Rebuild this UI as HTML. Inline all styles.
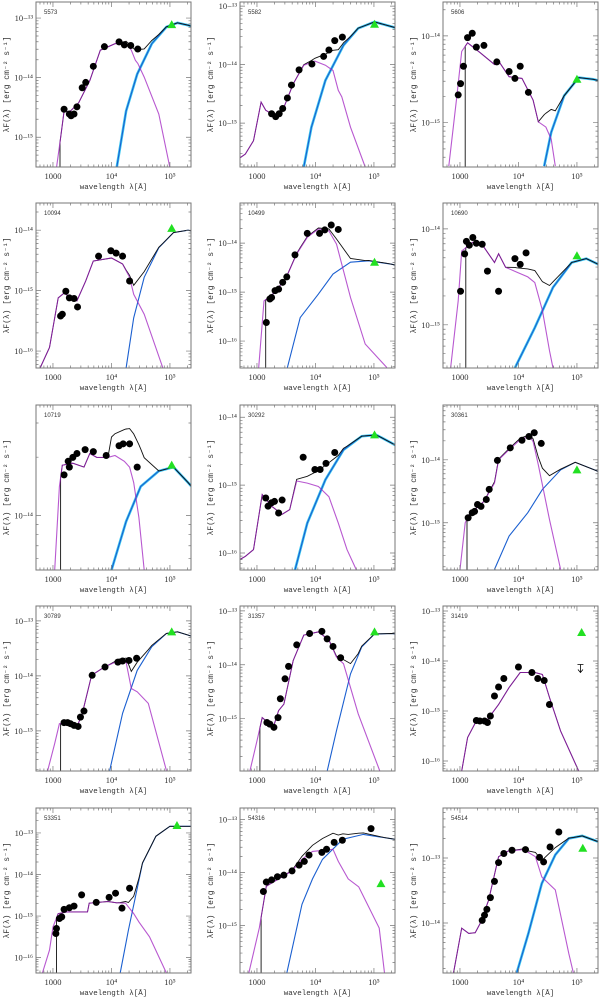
<!DOCTYPE html>
<html><head><meta charset="utf-8"><style>
html,body{margin:0;padding:0;background:#fff;}
svg{display:block;font-family:"Liberation Serif",serif;}
</style></head><body>
<svg id="fig" width="600" height="998" viewBox="0 0 600 998" xmlns="http://www.w3.org/2000/svg"></svg>
<script>
// ---- data (log10 wavelength [A], log10 lambda F [erg cm^-2 s^-1]) ----
const panelNames = ["5573","5582","5606","10094","10499","10690","10719","30292","30361","30789","31357","31419","53351","54316","54514"];
const yRanges = [[-15.5,-12.73],[-15.75,-12.93],[-15.51,-13.61],[-16.28,-13.55],[-16.55,-13.18],[-15.45,-13.73],[-14.28,-13.43],[-16.25,-13.82],[-15.75,-13.13],[-15.73,-12.73],[-15.97,-12.91],[-16.2,-12.9],[-16.37,-12.4],[-15.9,-12.78],[-14.77,-12.23]];
const cutoffs = [3.12,null,3.09,null,3.15,3.1,3.13,null,3.12,3.13,3.05,null,3.06,3.07,null];
const obsPoints = [
 [[3.19,-14.53],[3.28,-14.61],[3.31,-14.64],[3.36,-14.61],[3.41,-14.49],[3.50,-14.17],[3.56,-14.08],[3.69,-13.81],[3.88,-13.48],[4.13,-13.40],[4.22,-13.45],[4.33,-13.46],[4.45,-13.52]],
 [[3.25,-14.84],[3.32,-14.89],[3.38,-14.84],[3.44,-14.75],[3.52,-14.57],[3.59,-14.35],[3.72,-14.09],[3.94,-13.99],[4.14,-13.86],[4.23,-13.75],[4.33,-13.59],[4.46,-13.53]],
 [[2.97,-14.68],[3.01,-14.55],[3.06,-14.35],[3.13,-14.02],[3.21,-13.97],[3.28,-14.13],[3.41,-14.11],[3.63,-14.30],[3.84,-14.41],[3.94,-14.49],[4.03,-14.35],[4.17,-14.65]],
 [[3.13,-15.42],[3.16,-15.39],[3.22,-15.01],[3.28,-15.12],[3.36,-15.13],[3.42,-15.27],[3.78,-14.43],[3.99,-14.34],[4.08,-14.38],[4.19,-14.43],[4.31,-14.84]],
 [[3.16,-15.62],[3.22,-15.14],[3.25,-15.11],[3.31,-14.97],[3.37,-14.94],[3.44,-14.80],[3.51,-14.69],[3.65,-14.24],[3.86,-13.80],[4.07,-13.80],[4.16,-13.73],[4.27,-13.63],[4.39,-13.72]],
 [[3.01,-14.65],[3.08,-14.26],[3.11,-14.13],[3.16,-14.17],[3.22,-14.09],[3.28,-14.15],[3.38,-14.16],[3.47,-14.44],[3.66,-14.65],[3.94,-14.31],[4.03,-14.37],[4.13,-14.25]],
 [[3.19,-13.79],[3.26,-13.72],[3.28,-13.75],[3.34,-13.70],[3.41,-13.68],[3.55,-13.66],[3.69,-13.67],[3.91,-13.69],[4.13,-13.64],[4.20,-13.63],[4.31,-13.63],[4.44,-13.75]],
 [[3.15,-15.19],[3.19,-15.31],[3.25,-15.26],[3.30,-15.24],[3.37,-15.41],[3.43,-15.22],[3.79,-14.59],[3.99,-14.77],[4.08,-14.77],[4.18,-14.68],[4.33,-14.52]],
 [[3.14,-14.92],[3.21,-14.84],[3.25,-14.82],[3.30,-14.71],[3.36,-14.74],[3.45,-14.63],[3.50,-14.47],[3.64,-14.01],[3.86,-13.81],[4.06,-13.69],[4.18,-13.63],[4.27,-13.57],[4.39,-13.74]],
 [[3.19,-14.85],[3.25,-14.85],[3.30,-14.87],[3.36,-14.90],[3.43,-14.92],[3.47,-14.75],[3.53,-14.64],[3.67,-13.99],[3.89,-13.84],[4.11,-13.75],[4.19,-13.73],[4.30,-13.72],[4.43,-13.68]],
 [[3.17,-15.07],[3.22,-15.10],[3.29,-15.16],[3.36,-14.98],[3.40,-14.63],[3.48,-14.26],[3.54,-14.03],[3.68,-13.63],[3.90,-13.42],[4.11,-13.38],[4.20,-13.52],[4.30,-13.66],[4.43,-13.87]],
 [[3.28,-15.19],[3.34,-15.20],[3.42,-15.20],[3.47,-15.23],[3.52,-15.10],[3.59,-14.70],[3.66,-14.52],[3.75,-14.35],[4.00,-14.12],[4.23,-14.23],[4.33,-14.35],[4.44,-14.39],[4.53,-14.87]],
 [[3.05,-15.42],[3.06,-15.30],[3.11,-15.06],[3.15,-15.02],[3.19,-14.84],[3.28,-14.80],[3.36,-14.76],[3.49,-14.49],[3.74,-14.67],[3.96,-14.55],[4.07,-14.45],[4.18,-14.81],[4.31,-14.33]],
 [[3.11,-14.36],[3.16,-14.18],[3.25,-14.14],[3.35,-14.08],[3.46,-14.05],[3.60,-13.97],[3.72,-13.86],[3.81,-13.79],[3.89,-13.67],[4.11,-13.62],[4.19,-13.56],[4.32,-13.43],[4.46,-13.39],[4.95,-13.17]],
 [[3.38,-13.96],[3.42,-13.88],[3.46,-13.79],[3.52,-13.61],[3.59,-13.36],[3.66,-13.07],[3.75,-12.93],[3.89,-12.88],[4.12,-12.87],[4.36,-12.99],[4.43,-13.06],[4.54,-12.83],[4.69,-12.60]]
];
const farIrPoints = [[5.03,-13.11],[5.01,-13.31],[5.0,-14.50],[5.03,-13.97],[5.01,-14.39],[5.0,-14.28],[5.03,-13.74],[5.01,-14.26],[5.0,-14.16],[5.03,-13.2],[5.01,-13.39],[5.08,-13.43],[5.12,-12.82],[5.12,-14.21],[5.10,-12.85]];
const stellarModels = [
 [[3.06,-15.51],[3.13,-15.01],[3.19,-14.56],[3.28,-14.58],[3.44,-14.42],[3.63,-14.05],[3.81,-13.54],[4.06,-13.43],[4.25,-13.42],[4.34,-13.54],[4.41,-13.71],[4.45,-13.76],[4.56,-13.99],[4.81,-14.61],[5.0,-15.51]],
 [[2.70,-15.6],[2.80,-15.53],[2.94,-15.30],[3.07,-14.64],[3.15,-14.78],[3.25,-14.84],[3.34,-14.90],[3.46,-14.73],[3.62,-14.33],[3.80,-14.01],[3.99,-13.94],[4.17,-14.01],[4.30,-14.10],[4.39,-14.44],[4.45,-14.55],[4.60,-15.07],[4.85,-15.75]],
 [[2.81,-15.50],[2.94,-14.73],[3.03,-14.18],[3.13,-14.08],[3.34,-14.19],[3.59,-14.33],[3.66,-14.29],[3.84,-14.47],[4.06,-14.49],[4.25,-14.74],[4.34,-14.99],[4.47,-15.05],[4.56,-15.19],[4.63,-15.50]],
 [[2.70,-16.4],[2.78,-16.28],[2.94,-15.94],[3.09,-15.12],[3.19,-15.04],[3.31,-15.12],[3.41,-15.17],[3.56,-14.84],[3.69,-14.51],[4.0,-14.46],[4.19,-14.56],[4.31,-14.78],[4.38,-15.06],[4.56,-15.39],[4.88,-16.28]],
 [[3.0,-16.6],[3.03,-16.54],[3.12,-15.18],[3.25,-15.07],[3.49,-14.73],[3.68,-14.22],[3.86,-13.88],[4.05,-13.71],[4.23,-13.75],[4.36,-14.02],[4.60,-15.11],[4.85,-16.06],[5.22,-16.54]],
 [[2.84,-15.45],[2.97,-14.75],[3.03,-14.23],[3.22,-14.14],[3.41,-14.19],[3.59,-14.35],[3.66,-14.26],[3.78,-14.40],[3.97,-14.45],[4.16,-14.50],[4.28,-14.56],[4.41,-14.85],[4.53,-15.27],[4.59,-15.45]],
 [[3.03,-14.28],[3.11,-13.85],[3.16,-13.74],[3.34,-13.73],[3.53,-13.75],[3.63,-13.68],[3.75,-13.70],[3.94,-13.70],[4.06,-13.69],[4.22,-13.72],[4.31,-13.75],[4.38,-13.83],[4.47,-14.01],[4.56,-14.28]],
 [[2.70,-16.1],[2.80,-16.05],[2.94,-15.95],[3.09,-15.14],[3.25,-15.31],[3.43,-15.43],[3.56,-15.36],[3.68,-14.94],[3.86,-14.97],[4.05,-15.02],[4.23,-15.17],[4.39,-15.56],[4.54,-15.95],[4.70,-16.25]],
 [[3.0,-15.74],[3.09,-15.0],[3.16,-14.87],[3.41,-14.66],[3.59,-14.37],[3.66,-14.0],[3.84,-13.84],[4.03,-13.68],[4.19,-13.63],[4.25,-13.71],[4.34,-14.08],[4.53,-14.95],[4.72,-15.74]],
 [[2.91,-15.72],[3.03,-15.23],[3.11,-14.87],[3.22,-14.87],[3.41,-14.93],[3.5,-14.69],[3.66,-13.99],[3.88,-13.84],[4.13,-13.72],[4.25,-13.75],[4.34,-14.23],[4.44,-14.29],[4.63,-14.50],[4.94,-15.72]],
 [[2.88,-15.97],[3.0,-15.41],[3.09,-14.98],[3.19,-15.07],[3.28,-15.16],[3.37,-14.85],[3.46,-14.73],[3.62,-13.92],[3.80,-13.45],[4.05,-13.39],[4.23,-13.54],[4.36,-13.86],[4.48,-13.98],[4.73,-14.91],[5.10,-15.97]],
 [[3.03,-16.2],[3.13,-15.53],[3.28,-15.2],[3.47,-15.17],[3.66,-14.87],[3.84,-14.53],[4.03,-14.23],[4.28,-14.23],[4.41,-14.27],[4.53,-14.73],[4.72,-15.4],[5.03,-16.2]],
 [[2.82,-16.37],[2.94,-15.82],[3.0,-15.26],[3.09,-14.94],[3.24,-14.90],[3.59,-14.90],[3.62,-14.69],[3.94,-14.65],[4.09,-14.68],[4.24,-14.69],[4.38,-14.94],[4.47,-15.14],[4.65,-15.50],[4.94,-16.37]],
 [[2.86,-15.9],[3.04,-15.05],[3.16,-14.26],[3.60,-13.97],[3.77,-13.75],[3.95,-13.60],[4.30,-13.56],[4.39,-13.79],[4.56,-14.12],[4.74,-14.27],[5.09,-15.05],[5.18,-15.9]],
 [[2.89,-14.77],[3.03,-14.08],[3.15,-14.16],[3.26,-14.15],[3.35,-14.0],[3.49,-13.65],[3.66,-12.98],[3.83,-12.89],[4.09,-12.87],[4.29,-12.98],[4.40,-13.29],[4.63,-13.49],[4.86,-14.47],[4.94,-14.77]]
];
const dustModels = [
 [[4.09,-15.51],[4.25,-14.56],[4.44,-13.94],[4.69,-13.43],[4.94,-13.15],[5.13,-13.08],[5.31,-13.12],[5.4,-13.15]],
 [[3.80,-15.75],[3.93,-15.07],[4.17,-14.27],[4.48,-13.67],[4.73,-13.38],[5.01,-13.27],[5.30,-13.35],[5.4,-13.38]],
 [[4.44,-15.5],[4.56,-15.11],[4.78,-14.69],[5.03,-14.48],[5.28,-14.50],[5.4,-14.52]],
 [[4.25,-16.28],[4.38,-15.45],[4.56,-14.78],[4.81,-14.29],[5.06,-14.04],[5.31,-14.0],[5.4,-14.02]],
 [[3.52,-16.54],[3.74,-15.52],[4.05,-15.04],[4.30,-14.63],[4.60,-14.39],[4.91,-14.36],[5.30,-14.43],[5.4,-14.46]],
 [[3.94,-15.45],[4.28,-15.03],[4.59,-14.61],[4.91,-14.35],[5.16,-14.31],[5.30,-14.35],[5.4,-14.38]],
 [[4.0,-14.28],[4.25,-14.03],[4.5,-13.85],[4.81,-13.77],[5.06,-13.75],[5.31,-13.83],[5.4,-13.86]],
 [[3.65,-16.25],[3.86,-15.56],[4.17,-14.92],[4.48,-14.48],[4.79,-14.28],[5.04,-14.26],[5.30,-14.38],[5.4,-14.43]],
 [[3.59,-15.74],[3.84,-15.21],[4.16,-14.84],[4.41,-14.47],[4.72,-14.16],[4.97,-14.04],[5.30,-14.16],[5.4,-14.2]],
 [[3.97,-15.72],[4.19,-14.68],[4.44,-13.90],[4.69,-13.47],[4.94,-13.23],[5.13,-13.20],[5.31,-13.26],[5.4,-13.29]],
 [[4.20,-15.97],[4.36,-15.22],[4.60,-14.17],[4.79,-13.67],[5.01,-13.43],[5.30,-13.42],[5.4,-13.43]],
 [],
 [[4.15,-16.37],[4.29,-15.34],[4.53,-13.73],[4.76,-13.08],[5.0,-12.84],[5.24,-12.84],[5.44,-12.84]],
 [[3.51,-15.9],[3.77,-14.6],[3.95,-14.12],[4.12,-13.75],[4.47,-13.37],[4.82,-13.28],[5.35,-13.37],[5.4,-13.39]],
 [[3.97,-14.77],[4.17,-14.16],[4.40,-13.39],[4.63,-12.95],[4.86,-12.70],[5.09,-12.66],[5.43,-12.77]]
];
const dustBand = [true,true,true,false,false,true,true,true,false,false,false,false,false,false,true];
const upperLimits = [null,null,null,null,null,null,null,null,null,null,null,[5.06,-14.07],null,null,null];
const xTickValues = [3,4,5];
const xTickLabels = ["1000","10⁴","10⁵"];

// ---- layout ----
const colX = [36,240,443], rowY = [2,203,405,606,808], PW = 155, PH = 165;
const XMIN = 2.71, XMAX = 5.36;
const NS = "http://www.w3.org/2000/svg";
const svg = document.getElementById('fig');
function mk(tag, attrs, parent){const e=document.createElementNS(NS,tag);for(const k in attrs)e.setAttribute(k,attrs[k]);(parent||svg).appendChild(e);return e;}
const supMap = {"-":"−","0":"⁰","1":"¹","2":"²","3":"³","4":"⁴","5":"⁵","6":"⁶","7":"⁷","8":"⁸","9":"⁹"};

function interp(arr, x){
  if(!arr.length || x < arr[0][0] || x > arr[arr.length-1][0]) return null;
  for(let i=0;i<arr.length-1;i++){
    const a=arr[i], b=arr[i+1];
    if(x>=a[0] && x<=b[0]){ const t=(b[0]-a[0])?(x-a[0])/(b[0]-a[0]):0; return a[1]+t*(b[1]-a[1]); }
  }
  return arr[arr.length-1][1];
}

panelNames.forEach((name, p) => {
  const c = p % 3, r = Math.floor(p / 3);
  const x0 = colX[c], y0 = rowY[r];
  const [ylo, yhi] = yRanges[p];
  const sx = v => x0 + (v - XMIN) / (XMAX - XMIN) * PW;
  const sy = v => y0 + (yhi - v) / (yhi - ylo) * PH;

  const g = mk('g', {});
  
  
  const clipId = 'clip' + p;
  const cp = mk('clipPath', {id: clipId}, g);
  mk('rect', {x: x0, y: y0, width: PW, height: PH}, cp);
  const plot = mk('g', {'clip-path': 'url(#' + clipId + ')'}, g);

  const path = arr => arr.map((d,i)=>(i?'L':'M')+sx(d[0]).toFixed(1)+' '+sy(d[1]).toFixed(1)).join(' ');

  // dust model
  if (dustModels[p].length) {
    if (dustBand[p]) {
      const band = mk('path', {d: path(dustModels[p]), fill:'none', stroke:'#3cc8f0', 'stroke-width':2.6}, plot);
      
      
    }
    const dl = mk('path', {d: path(dustModels[p]), fill:'none', stroke:'#1a5fd0', 'stroke-width':1.1}, plot);
    
    
  }

  // total model = stellar + dust
  const grid = [...new Set(stellarModels[p].map(d=>d[0]).concat(dustModels[p].map(d=>d[0])))].sort((a,b)=>a-b);
  const cut = cutoffs[p];
  const tot = [];
  grid.forEach(l => {
    if (cut !== null && l < cut) return;
    const s = interp(stellarModels[p], l), d = interp(dustModels[p], l);
    let f = 0; if (s!==null) f += Math.pow(10, s); if (d!==null) f += Math.pow(10, d);
    if (f > 0) tot.push([l, Math.log10(f)]);
  });
  if (cut !== null) {
    const s = interp(stellarModels[p], cut), d = interp(dustModels[p], cut);
    let f = 0; if (s!==null) f += Math.pow(10, s); if (d!==null) f += Math.pow(10, d);
    if (f > 0) { tot.unshift([cut, Math.log10(f)]); tot.unshift([cut, ylo - 1]); }
  }
  const tl = mk('path', {d: path(tot), fill:'none', stroke:'#111', 'stroke-width':0.9}, plot);
  
  

  // stellar model (drawn over the total, semi-transparent)
  const sl = mk('path', {d: path(stellarModels[p]), fill:'none', stroke:'#a020c0', 'stroke-width':1.1, 'stroke-opacity':0.75}, plot);
  
  

  // observed points
  obsPoints[p].forEach(d => {
    const pt = mk('circle', {cx: sx(d[0]), cy: sy(d[1]), r: 3.5, fill:'#000'}, plot);
    
    
  });
  // far-IR triangle
  const fi = farIrPoints[p];
  const tx = sx(fi[0]), ty = sy(fi[1]);
  const tri = mk('polygon', {points: `${tx-4.5},${ty+3.5} ${tx+4.5},${ty+3.5} ${tx},${ty-4.5}`, fill:'#22e022'}, plot);
  
  
  if (upperLimits[p]) {
    const u = upperLimits[p], ux = sx(u[0]), uy = sy(u[1]);
    const ul = mk('path', {d:`M${ux-3} ${uy} L${ux+3} ${uy} M${ux} ${uy} L${ux} ${uy+8} M${ux-2.5} ${uy+5} L${ux} ${uy+8} L${ux+2.5} ${uy+5}`, fill:'none', stroke:'#000', 'stroke-width':0.8}, plot);
    
    
  }

  // frame
  const fr = mk('rect', {x: x0, y: y0, width: PW, height: PH, fill:'none', stroke:'#777', 'stroke-width':1}, g);
  
  

  // ticks (log, with minors)
  let tk = '';
  for (let dec = 2; dec <= 5; dec++) for (let m = 1; m <= 9; m++) {
    const v = dec + Math.log10(m); if (v < XMIN || v > XMAX) continue;
    const L = m === 1 ? 5 : 2.5, X = sx(v);
    tk += `M${X} ${y0+PH} L${X} ${y0+PH-L} M${X} ${y0} L${X} ${y0+L} `;
  }
  for (let dec = Math.floor(ylo); dec <= Math.ceil(yhi); dec++) for (let m = 1; m <= 9; m++) {
    const v = dec + Math.log10(m); if (v < ylo || v > yhi) continue;
    const L = m === 1 ? 5 : 2.5, Y = sy(v);
    tk += `M${x0} ${Y} L${x0+L} ${Y} M${x0+PW} ${Y} L${x0+PW-L} ${Y} `;
  }
  mk('path', {d: tk, stroke:'#777', 'stroke-width':0.7, fill:'none'}, g);

  xTickValues.forEach((v, i) => {
    const t = mk('text', {x: sx(v), y: y0+PH+12, 'font-size':8.5, 'text-anchor':'middle', fill:'#333'}, g);
    t.textContent = xTickLabels[i];
    
    
  });
  for (let dec = Math.ceil(ylo); dec <= Math.floor(yhi); dec++) {
    const t = mk('text', {x: x0-3, y: sy(dec)+3, 'font-size':8.5, 'text-anchor':'end', fill:'#333'}, g);
    t.textContent = '10' + String(dec).split('').map(ch=>supMap[ch]).join('');
    
    
  }
  const xl = mk('text', {x: x0+PW/2, y: y0+PH+22, 'font-size':7.5, 'text-anchor':'middle', fill:'#333', 'font-family':'"Liberation Mono",monospace'}, g);
  xl.textContent = 'wavelength λ[Å]';
  
  
  const yl = mk('text', {x: 0, y: 0, 'font-size':8, 'text-anchor':'middle', fill:'#333', 'font-family':'"Liberation Mono",monospace', transform:`translate(${x0-27},${y0+PH/2}) rotate(-90)`}, g);
  yl.textContent = 'λF(λ) [erg cm⁻² s⁻¹]';
  
  
  const nm = mk('text', {x: x0+8, y: y0+12, 'font-size':6, fill:'#333', 'font-family':'"Liberation Sans",sans-serif'}, g);
  nm.textContent = name;
  
  
});
</script>
</body></html>
